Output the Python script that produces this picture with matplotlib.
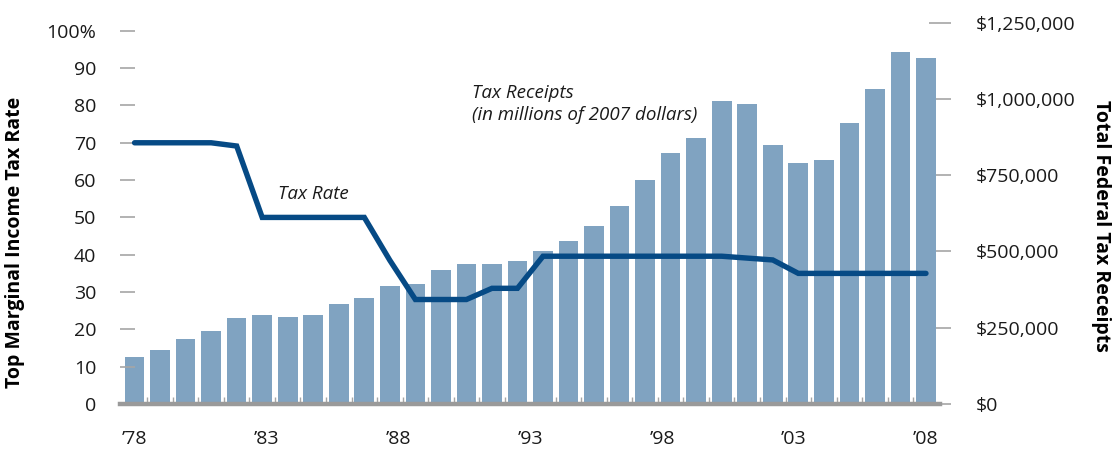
import numpy as np
import matplotlib
matplotlib.use("Agg")
import matplotlib.pyplot as plt
from matplotlib.ticker import FuncFormatter

plt.rcParams["font.family"] = ["Open Sans", "DejaVu Sans"]

# -----------------------------
# Data (1977 - 2008, one value per year)
# -----------------------------
receipts = [155000, 178000, 213000, 240000, 283000, 293000, 286000, 293000,
            329000, 346000, 388000, 395000, 440000, 460000, 460000, 470000,
            503000, 536000, 585000, 650000, 733000, 822000, 871000, 994000,
            985000, 850000, 789000, 801000, 920000, 1034000, 1153000, 1133000]
tax_rate = [70, 70, 70, 70, 69.13, 50, 50, 50, 50, 50, 38.5, 28, 28, 28, 31, 31,
            39.6, 39.6, 39.6, 39.6, 39.6, 39.6, 39.6, 39.6, 39.1, 38.6,
            35, 35, 35, 35, 35, 35]
year_labels = ["\u201978", "\u201983", "\u201988", "\u201993", "\u201998", "\u201903", "\u201908"]
left_ticks = [0, 10, 20, 30, 40, 50, 60, 70, 80, 90, 100]
right_ticks = [0, 250000, 500000, 750000, 1000000, 1250000]

BAR_COLOR = "#80a3c1"
LINE_COLOR = "#064a85"
GRAY = "#a6a6a6"
TEXT = "#1a1a1a"

x = np.arange(len(receipts))

fig = plt.figure(figsize=(11.18, 4.49), dpi=100)
ax = fig.add_axes([120 / 1118, 45 / 449, 820 / 1118, 384 / 449])
ax2 = ax.twinx()

# bars on the right (receipts) axis, line on the left (rate) axis
ax.set_zorder(ax2.get_zorder() + 1)
ax.patch.set_visible(False)

ax2.bar(x, receipts, width=0.77, color=BAR_COLOR, zorder=2)
ax.plot(x, tax_rate, color=LINE_COLOR, lw=3.9, solid_joinstyle="miter",
        solid_capstyle="round", zorder=3)

ax.set_xlim(-0.57, len(receipts) - 1 + 0.55)
ax.set_ylim(0, 102.9)
ax2.set_ylim(0, 1259000)

for a in (ax, ax2):
    for s in a.spines.values():
        s.set_visible(False)

# baseline
ax.axhline(0, color="#9a9a9a", lw=3.2, zorder=4, clip_on=False)

# left axis
ax.set_yticks(left_ticks)
ax.yaxis.set_major_formatter(FuncFormatter(lambda v, p: "100%" if v == 100 else f"{v:.0f}"))
ax.tick_params(axis="y", direction="in", length=11, width=1.2, color=GRAY,
               pad=17, labelsize=14, labelcolor=TEXT)
ax.set_ylabel("Top Marginal Income Tax Rate", fontsize=14, fontweight="bold", va="center")
ax.yaxis.set_label_coords(-0.128, 0.42)

# right axis
ax2.set_yticks(right_ticks)
ax2.yaxis.set_major_formatter(FuncFormatter(lambda v, p: f"${v:,.0f}"))
ax2.tick_params(axis="y", direction="inout", length=16, width=1.2, color=GRAY,
                pad=18, labelsize=14, labelcolor=TEXT)
ax2.set_ylabel("Total Federal Tax Receipts", fontsize=14, fontweight="bold",
               rotation=270, va="center")
ax2.yaxis.set_label_coords(1.196, 0.465)

# x axis: evenly spaced year labels, small separators between bars
ax.set_xticks(np.linspace(0, len(receipts) - 1, len(year_labels)))
ax.set_xticklabels(year_labels)
ax.tick_params(axis="x", length=0, pad=19, labelsize=14, labelcolor=TEXT)
ax.set_xticks(x[:-1] + 0.5, minor=True)
ax.tick_params(axis="x", which="minor", direction="in", length=5, width=1, color=GRAY)
ax2.tick_params(axis="x", which="both", length=0)

# annotations
ax.text(5.6, 55.0, "Tax Rate", fontsize=13.5, style="italic", color=TEXT)
ax.text(13.2, 76.0, "Tax Receipts\n(in millions of 2007 dollars)", fontsize=13.5,
        style="italic", color=TEXT, linespacing=1.3)

fig.savefig("out.png", dpi=100)
